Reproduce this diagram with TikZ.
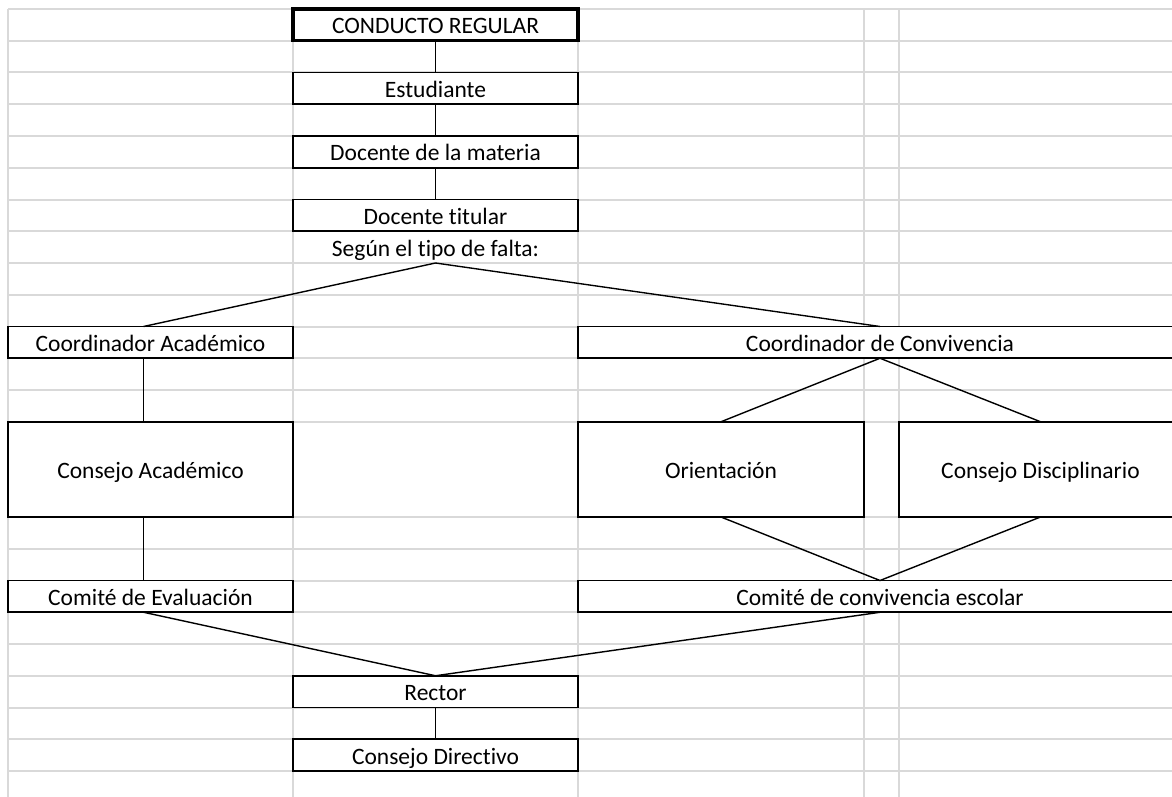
\documentclass[tikz,border=0pt]{standalone}
\usepackage{fontspec}
\setmainfont[Ligatures={NoCommon}]{Carlito}
\definecolor{gridgray}{HTML}{D9D9D9}
\begin{document}
\begin{tikzpicture}[x=1pt,y=-1pt,
  gridline/.style={draw=gridgray,line width=2pt},
  txt/.style={inner sep=0pt,outer sep=0pt,minimum height=31.75pt,text height=20pt,text depth=2pt,font=\fontsize{23.5}{28}\selectfont},
  cell/.style={txt,draw=black,line width=1.8pt,fill=white,anchor=north west},
  narrow/.style={cell,minimum width=285pt},
  conn/.style={draw=black,line width=1.4pt}]
\useasboundingbox (0,0) rectangle (1172,797);
\clip (0,0) rectangle (1172,797);
\fill[white] (0,0) rectangle (1172,797);
% grid
\foreach \k in {0,...,13,16,17,...,24}{
  \draw[gridline] (8,{9+31.75*\k}) -- (1172,{9+31.75*\k});
}
\foreach \x in {8,293,578,864,899}{
  \draw[gridline] (\x,9) -- (\x,797);
}
% nodes
\node[narrow,line width=3.2pt] (cr) at (293,9) {CONDUCTO REGULAR};
\node[narrow] (est) at (293,72.5) {Estudiante};
\node[narrow] (dm) at (293,136) {Docente de la materia};
\node[narrow] (dt) at (293,199.5) {Docente titular};
\node[txt,anchor=north] (seg) at (435.5,231.25) {Según el tipo de falta:};
\node[narrow] (ca) at (8,326.5) {Coordinador Académico};
\node[cell,minimum width=604pt] (cc) at (578,326.5) {Coordinador de Convivencia};
\node[narrow,minimum height=95.25pt] (cac) at (8,421.75) {Consejo Académico};
\node[cell,minimum width=286pt,minimum height=95.25pt] (ori) at (578,421.75) {Orientación};
\node[cell,minimum width=283pt,minimum height=95.25pt] (cd) at (899,421.75) {Consejo Disciplinario};
\node[narrow] (ce) at (8,580.5) {Comité de Evaluación};
\node[cell,minimum width=604pt] (ccs) at (578,580.5) {Comité de convivencia escolar};
\node[narrow] (rec) at (293,675.75) {Rector};
\node[narrow] (cdir) at (293,739.25) {Consejo Directivo};
% connectors
\draw[conn] (cr.south) -- (est.north);
\draw[conn] (est.south) -- (dm.north);
\draw[conn] (dm.south) -- (dt.north);
\draw[conn] ([xshift=-7pt]ca.north) -- (seg.south) -- (cc.north);
\draw[conn] ([xshift=-7pt]ca.south) -- ([xshift=-7pt]cac.north);
\draw[conn] (ori.north) -- (cc.south) -- (cd.north);
\draw[conn] ([xshift=-7pt]cac.south) -- ([xshift=-7pt]ce.north);
\draw[conn] (ori.south) -- (ccs.north) -- (cd.south);
\draw[conn] ([xshift=-7pt]ce.south) -- (rec.north) -- (ccs.south);
\draw[conn] (rec.south) -- (cdir.north);
\end{tikzpicture}
\end{document}
